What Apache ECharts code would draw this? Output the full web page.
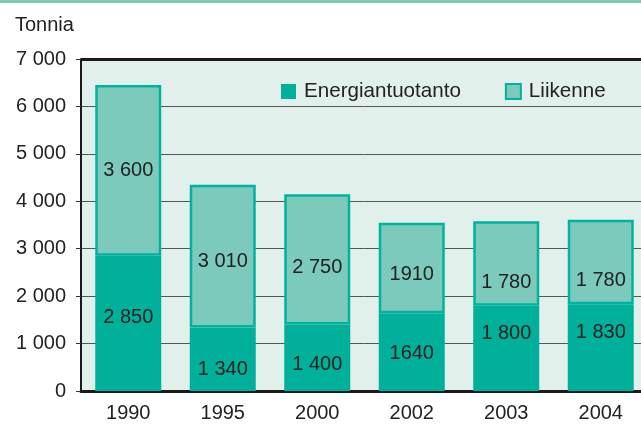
<!DOCTYPE html>
<html>
<head>
<meta charset="utf-8">
<script src="https://cdn.jsdelivr.net/npm/echarts@6/dist/echarts.min.js"></script>
<style>
  html, body { margin: 0; padding: 0; background: #fff; overflow: hidden; }
  #stripe { position: absolute; left: 0; top: 0; width: 641px; height: 3px; background: #7ec8b6; z-index: 2; }
  /* the plot runs past the right edge in the original, so the canvas is a bit wider than the window */
  #chart { width: 660px; height: 428px; }
</style>
</head>
<body>
<div id="stripe"></div>
<div id="chart"></div>
<script>
const years = ['1990', '1995', '2000', '2002', '2003', '2004'];
const energia = [2850, 1340, 1400, 1640, 1800, 1830];
const liikenne = [3600, 3010, 2750, 1910, 1780, 1780];
const energiaLabels = ['2 850', '1 340', '1 400', '1640', '1 800', '1 830'];
const liikenneLabels = ['3 600', '3 010', '2 750', '1910', '1 780', '1 780'];
const yTicks = ['0', '1 000', '2 000', '3 000', '4 000', '5 000', '6 000', '7 000'];

// label nudges (px)
const energiaShift = [-6, 10, 7, 1, -15, -15];
const liikenneShift = [0, 5, 8, 7, 19, 18];

const textColor = '#222';
const font = 'Liberation Sans, Arial, sans-serif';

const chart = echarts.init(document.getElementById('chart'));

const option = {
  animation: false,
  textStyle: { fontFamily: font },
  title: {
    text: 'Tonnia',
    left: 10,
    top: 10,
    textStyle: { fontSize: 20, fontWeight: 'normal', color: textColor, fontFamily: font }
  },
  legend: {
    left: 276,
    top: 76,
    itemWidth: 15,
    itemHeight: 15,
    itemGap: 44,
    icon: 'rect',
    textStyle: { fontSize: 20.6, color: textColor, padding: [0, 0, 0, 3] },
    data: ['Energiantuotanto', 'Liikenne']
  },
  grid: {
    left: 81,
    top: 59,
    right: 12,
    bottom: 37,
    show: true,
    backgroundColor: '#e2f0ec',
    borderWidth: 0
  },
  xAxis: {
    type: 'category',
    data: years,
    axisLine: { lineStyle: { color: '#1a1a1a', width: 3 } },
    axisTick: { length: 6, lineStyle: { color: '#333', width: 1 } },
    axisLabel: { fontSize: 20, color: textColor, margin: 12 }
  },
  yAxis: {
    type: 'value',
    min: 0,
    max: 7000,
    interval: 1000,
    axisLine: { show: true, lineStyle: { color: '#1a1a1a', width: 2 } },
    axisTick: { show: true, length: 5, lineStyle: { color: '#333' } },
    axisLabel: {
      fontSize: 20,
      color: textColor,
      margin: 15,
      formatter: function (v) { return yTicks[v / 1000]; }
    },
    splitLine: { lineStyle: { color: '#555', width: 1 } }
  },
  series: [
    {
      name: 'Energiantuotanto',
      type: 'bar',
      stack: 'total',
      barWidth: 66,
      itemStyle: { color: '#00b09b' },
      label: { show: true, position: 'inside', fontSize: 20, color: textColor },
      data: energia.map((v, i) => ({
        value: v,
        label: { formatter: energiaLabels[i], offset: [0, energiaShift[i]] }
      })),
      markLine: {
        silent: true,
        symbol: 'none',
        label: { show: false },
        lineStyle: { color: '#1a1a1a', width: 3, type: 'solid' },
        data: [{ yAxis: 7000 }]
      }
    },
    {
      name: 'Liikenne',
      type: 'bar',
      stack: 'total',
      barWidth: 66,
      itemStyle: { color: '#7ccabb', borderColor: '#00b39e', borderWidth: 2.5 },
      label: { show: true, position: 'inside', fontSize: 20, color: textColor },
      data: liikenne.map((v, i) => ({
        value: v,
        label: { formatter: liikenneLabels[i], offset: [0, liikenneShift[i]] }
      }))
    }
  ]
};

chart.setOption(option);
</script>
</body>
</html>
